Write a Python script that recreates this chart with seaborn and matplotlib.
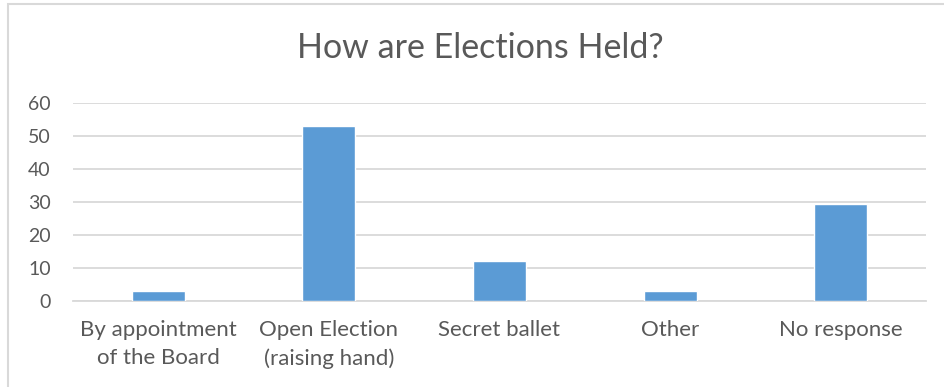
import matplotlib
matplotlib.use("Agg")
import matplotlib.pyplot as plt
import seaborn as sns
import pandas as pd
from matplotlib.patches import Rectangle

categories = ["By appointment\nof the Board", "Open Election\n(raising hand)",
              "Secret ballet", "Other", "No response"]
values = [3, 53, 12, 3, 29.4]
yticks = [0, 10, 20, 30, 40, 50, 60]
title = "How are Elections Held?"

sns.set_theme(style="white")
plt.rcParams["font.family"] = ["Lato", "DejaVu Sans"]

text_color = "#595959"
grid_color = "#D9D9D9"
bar_color = "#5B9BD5"

fig = plt.figure(figsize=(9.45, 3.87), dpi=100)
ax = fig.add_axes([73/945, 1 - 300.7/387, (926 - 73)/945, (300.7 - 103.3)/387])

df = pd.DataFrame({"cat": categories, "val": values})
sns.barplot(data=df, x="cat", y="val", color=bar_color, width=0.31,
            saturation=1, ax=ax, zorder=3)

ax.set_ylim(0, 60)
ax.set_yticks(yticks)
ax.set_xlim(-0.5, len(categories) - 0.5)
ax.yaxis.grid(True, color=grid_color, linewidth=1.3, zorder=0)
ax.xaxis.grid(False)
for s in ["top", "right", "left"]:
    ax.spines[s].set_visible(False)
ax.spines["bottom"].set_color(grid_color)
ax.spines["bottom"].set_linewidth(1.3)
ax.tick_params(axis="y", length=0, colors=text_color, labelsize=14, pad=16)
ax.tick_params(axis="x", length=0, colors=text_color, labelsize=16, pad=14)
ax.set_xlabel("")
ax.set_ylabel("")
for lbl in ax.get_xticklabels():
    lbl.set_linespacing(1.5)

fig.text(480/945, 1 - 48/387, title, ha="center", va="center",
         fontsize=24.5, color=text_color)

# chart frame
fig.patches.append(Rectangle((8/945, -0.1), 1.2, 1 - 4/387 + 0.1,
                             transform=fig.transFigure, fill=False,
                             edgecolor=grid_color, linewidth=1.5))

fig.savefig("out.png", dpi=100)
